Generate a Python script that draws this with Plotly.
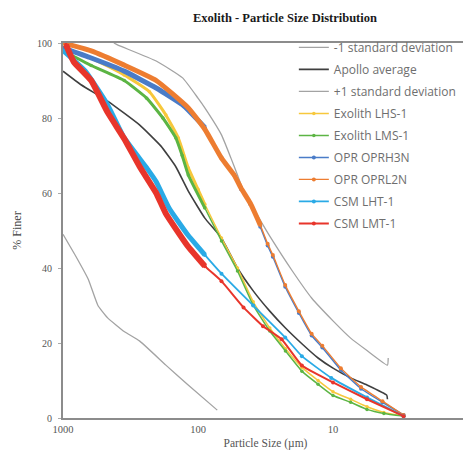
import plotly.graph_objects as go

# ---- data (particle size in µm, % finer) ----
minus1_size = [1000, 800, 650, 551, 467, 350, 270, 173, 120, 72]
minus1_val = [49, 43, 37, 30, 26.7, 23, 20.5, 14.1, 9, 2.1]

apollo_size = [1000, 730, 467, 270, 188, 146, 118, 89, 67, 51, 39, 29.4, 22.5, 17, 12.9, 10, 7.4, 5.6, 4.0, 3.95]
apollo_val = [92.5, 88.8, 84.5, 78.1, 72.5, 67, 60.5, 53.3, 48, 40, 33.9, 28.5, 24, 19.8, 16, 13.3, 10.7, 8.8, 6.1, 5]

plus1_size = [420, 395, 204, 130, 100, 89, 67, 57, 51, 46, 33, 29.4, 20, 14.4, 10, 7.4, 5.6, 3.95, 3.9]
plus1_val = [100, 99.5, 95.2, 90.7, 85.3, 82.7, 75.5, 69.3, 64.8, 60.5, 51.5, 48.5, 39.2, 32, 25.9, 21.3, 18, 14.1, 16]

lhs1_size = [1000, 618, 352, 229, 173, 140, 118, 100, 89, 67, 51, 39, 29.4, 22.5, 17, 12.9, 10, 7.4, 5.6, 4.2, 3.0]
lhs1_val = [98.7, 96, 91.5, 87, 80.8, 74.7, 66.7, 61, 57, 48, 40, 31, 24, 18.5, 13.5, 10, 7, 5, 3, 1.5, 0.5]

lms1_size = [1000, 618, 352, 240, 182, 146, 131, 118, 89, 67, 51, 39, 29.4, 22.5, 17, 12.9, 10, 7.4, 5.6, 4.2, 3.0]
lms1_val = [97.9, 94, 90, 85.3, 80, 74.7, 70, 64.8, 56, 47.2, 39.2, 30.1, 23.2, 17.9, 12.5, 9, 6, 4.2, 2.3, 1.2, 0.5]

oprh3n_size = [1000, 618, 352, 204, 130, 89, 67, 54, 48, 41, 34.6, 30.5, 27.9, 22.6, 17.9, 14.4, 12, 8.75, 6.2, 4.3, 3.0]
oprh3n_val = [98.7, 96, 92.5, 88, 83.5, 77.5, 69.5, 64.8, 61, 57, 51, 46, 43, 35, 28, 22, 18.8, 12.8, 7.8, 4.2, 0.8]

oprl2n_size = [1000, 618, 352, 204, 118, 89, 67, 54, 48, 41, 34.6, 30.5, 27.9, 22.6, 17.9, 14.4, 12, 8.75, 6.2, 4.3, 3.0]
oprl2n_val = [100, 97.9, 94.1, 90, 82.7, 77, 69.3, 64.8, 61.3, 57.3, 51.5, 46.5, 43.5, 35.5, 28.5, 22.5, 19.3, 13.3, 8.3, 4.5, 0.8]

lht1_size = [1000, 683, 467, 352, 240, 204, 164, 120, 89, 67, 39, 22.6, 17, 10.3, 5.6, 3.0]
lht1_val = [98, 92.5, 83.5, 74.7, 66.7, 63, 56, 49, 43.5, 38.5, 30, 21.5, 16.5, 10.7, 5.5, 0.5]

lmt1_size = [950, 833, 618, 467, 352, 270, 204, 173, 120, 89, 67, 46, 33, 24, 17, 10, 5.6, 3.0]
lmt1_val = [99.5, 95, 90, 81.5, 74.5, 67, 60, 54.5, 46, 40.5, 36.5, 29.5, 24.5, 21, 14, 9.5, 5, 0.5]

x_tickvals = [1000, 100, 10, 1]
x_ticktext = ["1000", "100", "10", "1"]
y_tickvals = [0, 20, 40, 60, 80, 100]

fig = go.Figure()

def add_series(name, xs, ys, color, width, marker=False, msize=4, thick=None, thick_from=None):
    if thick is not None:
        tx = [a for a in xs if a >= thick_from]
        ty = [b for a, b in zip(xs, ys) if a >= thick_from]
        fig.add_trace(go.Scatter(x=tx, y=ty, mode="lines", showlegend=False, hoverinfo="skip",
                                 line=dict(color=color, width=thick, shape="spline", smoothing=0.4)))
    fig.add_trace(go.Scatter(
        x=xs, y=ys, name=name, legendgroup=name,
        mode="lines+markers" if marker else "lines",
        line=dict(color=color, width=width, shape="spline", smoothing=0.4),
        marker=dict(size=msize, color=color)))

add_series("-1 standard deviation", minus1_size, minus1_val, "#a3a3a3", 1.3)
add_series("Apollo average", apollo_size, apollo_val, "#3f3f3f", 1.6)
add_series("+1 standard deviation", plus1_size, plus1_val, "#a3a3a3", 1.3)
add_series("Exolith LHS-1", lhs1_size, lhs1_val, "#f7c83c", 1.5, True, 3.5, 3, 89)
add_series("Exolith LMS-1", lms1_size, lms1_val, "#5cb544", 1.5, True, 3.5, 3, 89)
add_series("OPR OPRH3N", oprh3n_size, oprh3n_val, "#4a7cc8", 1.5, True, 4, 5, 89)
add_series("OPR OPRL2N", oprl2n_size, oprl2n_val, "#ed7d31", 1.3, True, 4, 5, 33)
add_series("CSM LHT-1", lht1_size, lht1_val, "#2aaae6", 1.8, True, 4, 5, 89)
add_series("CSM LMT-1", lmt1_size, lmt1_val, "#e8352b", 2, True, 4, 6, 89)

serif = "Liberation Serif, Times New Roman, serif"

fig.update_layout(
    width=471, height=452,
    margin=dict(l=53, r=8, t=35, b=42),
    paper_bgcolor="white", plot_bgcolor="white",
    title=dict(text="<b>Exolith - Particle Size Distribution</b>", x=0.588, xanchor="center",
               y=1 - 10 / 452, yanchor="middle", font=dict(family=serif, size=12.5, color="#1a1a1a")),
    legend=dict(x=0.57, xanchor="left", y=1.027, yanchor="top", bgcolor="rgba(0,0,0,0)",
                font=dict(family="Open Sans, sans-serif", size=12, color="#6e6e6e"),
                traceorder="grouped", tracegroupgap=3, itemwidth=30),
    showlegend=True,
)

fig.update_xaxes(type="log", range=[3, 0], tickvals=x_tickvals, ticktext=x_ticktext,
                 showgrid=False, zeroline=False, showline=True, mirror=True,
                 linecolor="#8c8c8c", linewidth=2, ticks="", ticklabelstandoff=0,
                 tickfont=dict(family=serif, size=10.5, color="#555"),
                 title=dict(text="Particle Size (µm)", standoff=5,
                            font=dict(family=serif, size=11.5, color="#555")))
fig.update_yaxes(range=[0, 100], tickvals=y_tickvals, showgrid=False, zeroline=False,
                 showline=True, mirror=True, linecolor="#8c8c8c", linewidth=2,
                 ticks="outside", ticklen=3, tickcolor="#aaa", ticklabelstandoff=4,
                 tickfont=dict(family=serif, size=10, color="#555"),
                 title=dict(text="% Finer", standoff=13,
                            font=dict(family=serif, size=12, color="#444")))

fig.write_html("out.html")
